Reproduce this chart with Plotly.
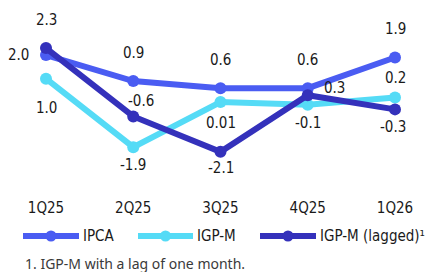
import plotly.graph_objects as go

quarters = ["1Q25", "2Q25", "3Q25", "4Q25", "1Q26"]
ipca = [2.0, 0.9, 0.6, 0.6, 1.9]
igpm = [1.0, -1.9, 0.01, -0.1, 0.2]
igpm_lagged = [2.3, -0.6, -2.1, 0.3, -0.3]
ipca_text = ["2.0", "0.9", "0.6", "0.6", "1.9"]
igpm_text = ["1.0", "-1.9", "0.01", "-0.1", "0.2"]
lag_text = ["2.3", "-0.6", "-2.1", "0.3", "-0.3"]
series_names = ["IPCA", "IGP-M", "IGP-M (lagged)¹"]
footnote = "1. IGP-M with a lag of one month."

C_IPCA = "#4a5cf2"
C_IGPM = "#55dbf6"
C_LAG = "#3431bb"
colors = [C_IPCA, C_IGPM, C_LAG]
FONT = "Liberation Sans Narrow, DejaVu Sans Condensed, Arial Narrow, sans-serif"
FS = 15
TXT = "#1a1a1a"

W, H = 430, 272
MB = 75
PH = H - MB  # plot height in px

fig = go.Figure()
for name, vals, col in zip(series_names, [ipca, igpm, igpm_lagged], colors):
    fig.add_trace(go.Scatter(
        x=quarters, y=vals, name=name, mode="lines+markers",
        line=dict(color=col, width=6),
        marker=dict(color=col, size=12),
        hoverinfo="skip", showlegend=False,
    ))

# label offsets (px): (xshift, yshift) ; positive yshift = up
ipca_off = [(-28, 0), (0, 28), (0, 28), (0, 28), (0, 28)]
igpm_off = [(0, -29), (0, -18), (0, -21), (0, -18), (0, 20)]
lag_off = [(0, 28), (8, 15), (0, -16), (27, 7), (-2, -18)]

for vals, texts, offs in [(ipca, ipca_text, ipca_off), (igpm, igpm_text, igpm_off),
                          (igpm_lagged, lag_text, lag_off)]:
    for q, v, t, (dx, dy) in zip(quarters, vals, texts, offs):
        fig.add_annotation(x=q, y=v, text=t, showarrow=False, xshift=dx, yshift=dy,
                           font=dict(family=FONT, size=FS, color=TXT))

# custom legend (pixel placement)
def py(px):
    return (PH - px) / PH

leg_y = 236
leg_lines = [(23, 79), (138, 193), (260, 316)]
leg_text_x = [81, 195, 318]
for name, col, (x0, x1), tx in zip(series_names, colors, leg_lines, leg_text_x):
    fig.add_shape(type="line", xref="paper", yref="paper", x0=x0 / W, x1=x1 / W,
                  y0=py(leg_y), y1=py(leg_y), line=dict(color=col, width=6))
    fig.add_shape(type="circle", xref="paper", yref="paper",
                  xsizemode="pixel", ysizemode="pixel",
                  xanchor=(x0 + x1) / 2 / W, yanchor=py(leg_y),
                  x0=-5.5, x1=5.5, y0=-5.5, y1=5.5,
                  fillcolor=col, line=dict(width=0))
    fig.add_annotation(xref="paper", yref="paper", x=tx / W, y=py(leg_y),
                       xanchor="left", yanchor="middle", text=name, showarrow=False,
                       font=dict(family=FONT, size=FS, color=TXT))

fig.add_annotation(xref="paper", yref="paper", x=23 / W, y=py(263), xanchor="left",
                   yanchor="middle", text=footnote, showarrow=False,
                   font=dict(family="Noto Sans, sans-serif", size=14, color="#3a3a3a"))

fig.update_layout(
    width=W, height=H,
    margin=dict(l=0, r=0, t=0, b=MB),
    paper_bgcolor="white", plot_bgcolor="white",
    showlegend=False,
    font=dict(family=FONT, size=FS, color=TXT),
    xaxis=dict(range=[-0.5272, 4.4011], showgrid=False, zeroline=False, showline=False,
               ticks="", tickfont=dict(family=FONT, size=FS, color=TXT)),
    yaxis=dict(range=[-4.013, 4.335], visible=False, showgrid=False, zeroline=False),
)
fig.write_html("out.html", config={"displayModeBar": False},
               post_script="document.body.style.margin='0px';")
